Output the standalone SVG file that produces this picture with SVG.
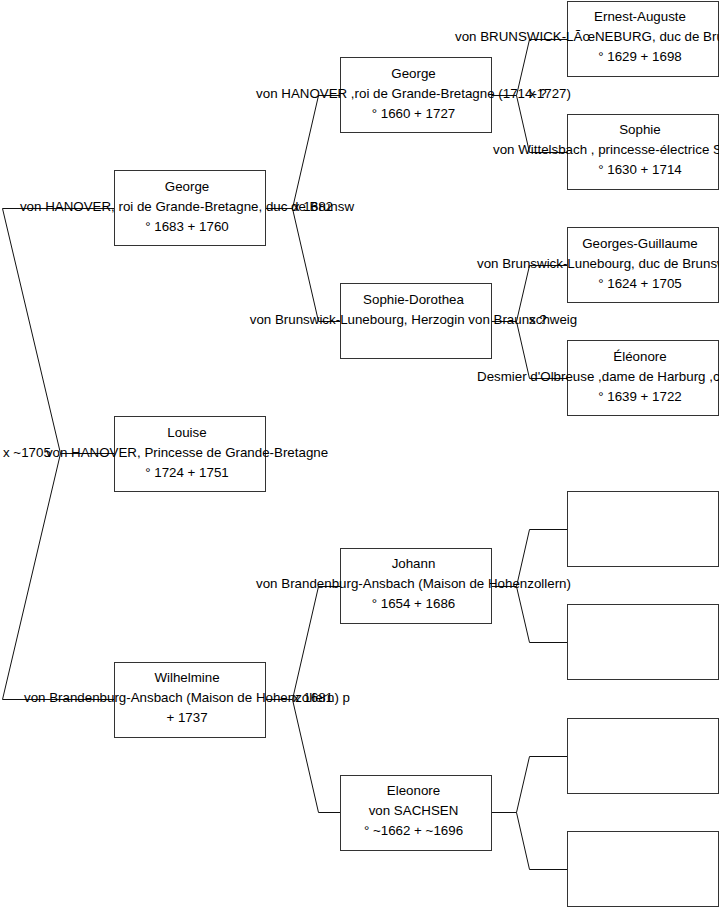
<svg xmlns="http://www.w3.org/2000/svg" width="719" height="908" viewBox="0 0 719 908">
<style>
.box{fill:#fff;stroke:#333;stroke-width:1}
.con{fill:none;stroke:#111;stroke-width:1}
text{font-family:"Liberation Sans",Arial,sans-serif;font-size:13.33px;fill:#000}
.l1{text-anchor:middle}
.st{text-anchor:start}
</style>
<rect x="0" y="0" width="719" height="908" fill="#fff"/>
<g id="connectors">
<path class="con" d="M114.5,208.5 H2.5 L60.5,453.5 L2.5,699.5 H114.5 M60.5,453.5 H114.5"/>
<path class="con" d="M265.5,208.5 H292.5 L318.5,95.5 H340.5 M292.5,208.5 L318.5,321.5 H340.5"/>
<path class="con" d="M265.5,699.5 H292.5 L318.5,586.5 H340.5 M292.5,699.5 L318.5,812.5 H340.5"/>
<path class="con" d="M491.5,95.5 H516.5 L529.5,39.5 H567.5 M516.5,95.5 L529.5,152.5 H567.5"/>
<path class="con" d="M491.5,321.5 H516.5 L529.5,265.5 H567.5 M516.5,321.5 L529.5,378.5 H567.5"/>
<path class="con" d="M491.5,586.5 H516.5 L529.5,529.5 H567.5 M516.5,586.5 L529.5,642.5 H567.5"/>
<path class="con" d="M491.5,812.5 H516.5 L529.5,756.5 H567.5 M516.5,812.5 L529.5,869.5 H567.5"/>
</g>
<g id="n_george2">
<rect class="box" x="114.5" y="170.5" width="151" height="75"/>
<text class="l1" x="187" y="191">George</text>
<text class="l1" x="187" y="211">von HANOVER, roi de Grande-Bretagne, duc de Brunsw</text>
<text class="l1" x="187" y="231">° 1683 + 1760</text>
</g>
<g id="n_louise">
<rect class="box" x="114.5" y="416.5" width="151" height="75"/>
<text class="l1" x="187" y="437">Louise</text>
<text class="l1" x="187" y="457">von HANOVER, Princesse de Grande-Bretagne</text>
<text class="l1" x="187" y="477">° 1724 + 1751</text>
</g>
<g id="n_wilhelmine">
<rect class="box" x="114.5" y="662.5" width="151" height="75"/>
<text class="l1" x="187" y="682">Wilhelmine</text>
<text class="l1" x="187" y="702">von Brandenburg-Ansbach (Maison de Hohenzollern) p</text>
<text class="l1" x="187" y="722">+ 1737</text>
</g>
<g id="n_george1">
<rect class="box" x="340.5" y="57.5" width="151" height="75"/>
<text class="l1" x="413.5" y="78">George</text>
<text class="l1" x="413.5" y="98">von HANOVER ,roi de Grande-Bretagne (1714-1727)</text>
<text class="l1" x="413.5" y="118">° 1660 + 1727</text>
</g>
<g id="n_sophiedorothea">
<rect class="box" x="340.5" y="283.5" width="151" height="75"/>
<text class="l1" x="413.5" y="304">Sophie-Dorothea</text>
<text class="l1" x="413.5" y="324">von Brunswick-Lunebourg, Herzogin von Braunschweig</text>
</g>
<g id="n_johann">
<rect class="box" x="340.5" y="548.5" width="151" height="75"/>
<text class="l1" x="413.5" y="568">Johann</text>
<text class="l1" x="413.5" y="588">von Brandenburg-Ansbach (Maison de Hohenzollern)</text>
<text class="l1" x="413.5" y="608">° 1654 + 1686</text>
</g>
<g id="n_eleonore_sachsen">
<rect class="box" x="340.5" y="775.5" width="151" height="75"/>
<text class="l1" x="413.5" y="795">Eleonore</text>
<text class="l1" x="413.5" y="815">von SACHSEN</text>
<text class="l1" x="413.5" y="835">° ~1662 + ~1696</text>
</g>
<g id="n_ernestauguste">
<rect class="box" x="567.5" y="1.5" width="151" height="75"/>
<text class="l1" x="640" y="21">Ernest-Auguste</text>
<text class="st" x="455" y="41">von BRUNSWICK-LÃœNEBURG, duc de Bru</text>
<text class="l1" x="640" y="61">° 1629 + 1698</text>
</g>
<g id="n_sophie">
<rect class="box" x="567.5" y="114.5" width="151" height="75"/>
<text class="l1" x="640" y="134">Sophie</text>
<text class="st" x="493" y="154">von Wittelsbach , princesse-électrice S</text>
<text class="l1" x="640" y="174">° 1630 + 1714</text>
</g>
<g id="n_georgesguillaume">
<rect class="box" x="567.5" y="227.5" width="151" height="75"/>
<text class="l1" x="640" y="248">Georges-Guillaume</text>
<text class="st" x="477" y="268">von Brunswick-Lunebourg, duc de Brunsw</text>
<text class="l1" x="640" y="288">° 1624 + 1705</text>
</g>
<g id="n_eleonore_olbreuse">
<rect class="box" x="567.5" y="340.5" width="151" height="75"/>
<text class="l1" x="640" y="361">Éléonore</text>
<text class="st" x="477" y="381">Desmier d'Olbreuse ,dame de Harburg ,c</text>
<text class="l1" x="640" y="401">° 1639 + 1722</text>
</g>
<g id="n_empty1"><rect class="box" x="567.5" y="491.5" width="151" height="75"/></g>
<g id="n_empty2"><rect class="box" x="567.5" y="604.5" width="151" height="75"/></g>
<g id="n_empty3"><rect class="box" x="567.5" y="718.5" width="151" height="75"/></g>
<g id="n_empty4"><rect class="box" x="567.5" y="831.5" width="151" height="75"/></g>
<g id="marriages">
<text class="st" x="3" y="457">x ~1705</text>
<text class="st" x="293" y="211">x 1682</text>
<text class="st" x="293" y="702">x 1681</text>
<text class="st" x="529" y="98">x ?</text>
<text class="st" x="529" y="324">x ?</text>
</g>
</svg>
